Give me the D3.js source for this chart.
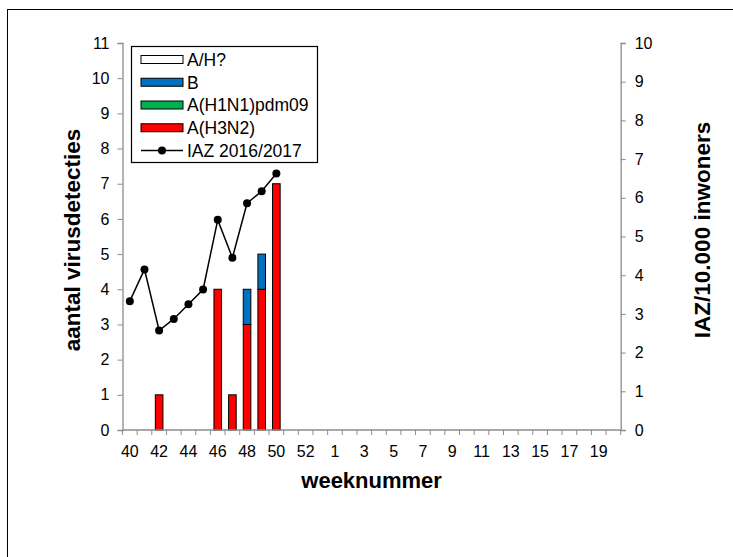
<!DOCTYPE html>
<html>
<head>
<meta charset="utf-8">
<script src="https://cdn.jsdelivr.net/npm/d3@7"></script>
<style>
  body { margin: 0; background: #fff; }
  svg text { font-family: "Liberation Sans", Arial, sans-serif; fill: #000; }
</style>
</head>
<body>
<svg id="chart" width="733" height="557"></svg>
<script>
// weeks of the season, 40 .. 53 then 1 .. 20
const weeks = [40, 41, 42, 43, 44, 45, 46, 47, 48, 49, 50, 51, 52, 53,
  1, 2, 3, 4, 5, 6, 7, 8, 9, 10, 11, 12, 13, 14, 15, 16, 17, 18, 19, 20];
const weekLabels = [40, 42, 44, 46, 48, 50, 52, 1, 3, 5, 7, 9, 11, 13, 15, 17, 19];

// virus detections per week (only weeks with data)
const detWeeks = [40, 41, 42, 43, 44, 45, 46, 47, 48, 49, 50];
const h3n2 = [0, 0, 1, 0, 0, 0, 4, 1, 3, 4, 7];
const h1n1 = [0, 0, 0, 0, 0, 0, 0, 0, 0, 0, 0];
const fluB = [0, 0, 0, 0, 0, 0, 0, 0, 1, 1, 0];
const ahUnknown = [0, 0, 0, 0, 0, 0, 0, 0, 0, 0, 0];

// ILI per 10.000 inhabitants, season 2016/2017
const iazWeeks = [40, 41, 42, 43, 44, 45, 46, 47, 48, 49, 50];
const iaz = [3.33, 4.15, 2.57, 2.87, 3.25, 3.63, 5.43, 4.45, 5.86, 6.17, 6.63];

const leftTicks = d3.range(0, 12);
const rightTicks = d3.range(0, 11);

const seriesKeys = ["h3n2", "h1n1", "b", "ah"];
const seriesColors = { ah: "#ffffff", b: "#0070c0", h1n1: "#00b050", h3n2: "#ff0000" };
const legendItems = [
  { key: "ah", label: "A/H?" },
  { key: "b", label: "B" },
  { key: "h1n1", label: "A(H1N1)pdm09" },
  { key: "h3n2", label: "A(H3N2)" },
  { key: "line", label: "IAZ 2016/2017" }
];

const svg = d3.select("#chart");
const plotLeft = 122.5, plotRight = 620.7, plotTop = 43, plotBottom = 430;
const axisColor = "#8c8c8c";

// outer frame (only left and top edges fall inside the picture)
svg.append("rect")
  .attr("x", 7.5).attr("y", 9.5)
  .attr("width", 760).attr("height", 580)
  .attr("fill", "none").attr("stroke", "#000").attr("stroke-width", 1);

const x = d3.scaleBand().domain(weeks).range([plotLeft, plotRight]);
const yL = d3.scaleLinear().domain([0, 11]).range([plotBottom, plotTop]);
const yR = d3.scaleLinear().domain([0, 10]).range([plotBottom, plotTop]);

// stacked bars
const table = detWeeks.map((w, i) => ({
  week: w, h3n2: h3n2[i], h1n1: h1n1[i], b: fluB[i], ah: ahUnknown[i]
}));
const stacked = d3.stack().keys(seriesKeys)(table);
const barW = 7.6;

svg.append("g").selectAll("g")
  .data(stacked)
  .join("g")
  .attr("fill", d => seriesColors[d.key])
  .selectAll("rect")
  .data(d => d.filter(s => s[1] - s[0] > 0))
  .join("rect")
  .attr("x", d => x(d.data.week) + x.bandwidth() / 2 - barW / 2)
  .attr("y", d => yL(d[1]))
  .attr("width", barW)
  .attr("height", d => yL(d[0]) - yL(d[1]))
  .attr("stroke", "#000")
  .attr("stroke-width", 1);

// axes
function styleAxis(g) {
  g.select(".domain").attr("stroke", axisColor).attr("stroke-width", 1.3);
  g.selectAll(".tick line").attr("stroke", axisColor).attr("stroke-width", 1);
  g.selectAll(".tick text").style("font-size", "16px");
}

const gL = svg.append("g").attr("transform", `translate(${plotLeft},0)`)
  .call(d3.axisLeft(yL).tickValues(leftTicks).tickSize(5).tickSizeOuter(5).tickPadding(8));
styleAxis(gL);

const gR = svg.append("g").attr("transform", `translate(${plotRight},0)`)
  .call(d3.axisRight(yR).tickValues(rightTicks).tickSize(5).tickSizeOuter(5).tickPadding(9));
styleAxis(gR);

// x axis: ticks between categories, labels on every other week
const gB = svg.append("g").attr("transform", `translate(0,${plotBottom})`);
gB.append("line")
  .attr("x1", plotLeft).attr("x2", plotRight)
  .attr("stroke", axisColor).attr("stroke-width", 1.3);
gB.selectAll(".sep")
  .data(weeks.concat(["end"]))
  .join("line")
  .attr("class", "sep")
  .attr("x1", (d, i) => plotLeft + i * x.step())
  .attr("x2", (d, i) => plotLeft + i * x.step())
  .attr("y1", 0).attr("y2", 5)
  .attr("stroke", axisColor);
gB.selectAll(".lbl")
  .data(weekLabels)
  .join("text")
  .attr("class", "lbl")
  .attr("x", d => x(d) + x.bandwidth() / 2)
  .attr("y", 27)
  .attr("text-anchor", "middle")
  .style("font-size", "16px")
  .text(d => d);

// IAZ line
const line = d3.line()
  .x((d, i) => x(iazWeeks[i]) + x.bandwidth() / 2)
  .y(d => yR(d));
svg.append("path")
  .datum(iaz)
  .attr("d", line)
  .attr("fill", "none")
  .attr("stroke", "#000")
  .attr("stroke-width", 1.5);
svg.append("g").selectAll("circle")
  .data(iaz)
  .join("circle")
  .attr("cx", (d, i) => x(iazWeeks[i]) + x.bandwidth() / 2)
  .attr("cy", d => yR(d))
  .attr("r", 4)
  .attr("fill", "#000");

// axis titles
svg.append("text")
  .attr("transform", "translate(80,240) rotate(-90)")
  .attr("text-anchor", "middle")
  .style("font-size", "22.5px").style("font-weight", "bold")
  .text("aantal virusdetecties");
svg.append("text")
  .attr("transform", "translate(710,230) rotate(-90)")
  .attr("text-anchor", "middle")
  .style("font-size", "22.5px").style("font-weight", "bold")
  .text("IAZ/10.000  inwoners");
svg.append("text")
  .attr("x", (plotLeft + plotRight) / 2)
  .attr("y", 488)
  .attr("text-anchor", "middle")
  .style("font-size", "22px").style("font-weight", "bold")
  .text("weeknummer");

// legend
const lg = svg.append("g");
lg.append("rect")
  .attr("x", 131.5).attr("y", 46.5)
  .attr("width", 186).attr("height", 116)
  .attr("fill", "#fff").attr("stroke", "#000").attr("stroke-width", 1.2);
const rowY = d3.scalePoint().domain(legendItems.map(d => d.key)).range([59.5, 150.5]);
legendItems.forEach(item => {
  const cy = rowY(item.key);
  if (item.key === "line") {
    lg.append("line")
      .attr("x1", 141).attr("x2", 183).attr("y1", cy).attr("y2", cy)
      .attr("stroke", "#000").attr("stroke-width", 1.5);
    lg.append("circle").attr("cx", 162).attr("cy", cy).attr("r", 4).attr("fill", "#000");
  } else {
    lg.append("rect")
      .attr("x", 141).attr("y", cy - 4)
      .attr("width", 42).attr("height", 8)
      .attr("fill", seriesColors[item.key])
      .attr("stroke", "#000").attr("stroke-width", 1);
  }
  lg.append("text")
    .attr("x", 187).attr("y", cy)
    .attr("dy", "0.36em")
    .style("font-size", "17.5px")
    .text(item.label);
});
</script>
</body>
</html>
